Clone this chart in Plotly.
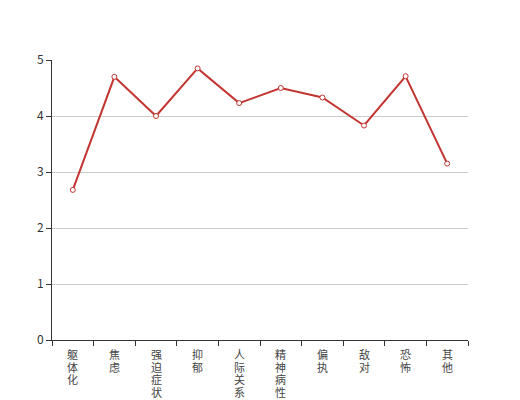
import plotly.graph_objects as go

categories = ["躯体化", "焦虑", "强迫症状", "抑郁", "人际关系敏感", "精神病性", "偏执", "敌对", "恐怖", "其他"]
values = [2.68, 4.70, 4.00, 4.85, 4.23, 4.50, 4.33, 3.83, 4.71, 3.15]
y_ticks = [0, 1, 2, 3, 4, 5]

fig = go.Figure()
fig.add_trace(go.Scatter(
    x=categories, y=values, mode="lines+markers",
    line=dict(color="#c23531", width=2),
    marker=dict(symbol="circle", size=5, color="#ffffff",
                line=dict(color="#c23531", width=1)),
    hoverinfo="x+y",
))

# vertical (stacked-character) category labels, tight line spacing
annotations = []
for cat in categories:
    for j, ch in enumerate(cat):
        annotations.append(dict(
            x=cat, xref="x", y=0, yref="paper",
            yanchor="middle", xanchor="center",
            yshift=-(14 + 12.7 * j), text=ch, showarrow=False,
            borderpad=0,
            font=dict(size=11, color="#444444"),
        ))

fig.update_layout(
    width=520, height=400,
    margin=dict(l=44, r=60, t=52, b=68, autoexpand=False),
    paper_bgcolor="#ffffff", plot_bgcolor="#ffffff",
    showlegend=False,
    font=dict(family="Noto Sans CJK SC, sans-serif", size=12, color="#333333"),
    annotations=annotations,
)
fig.update_xaxes(
    type="category", range=[-0.5, 9.5],
    showticklabels=False,
    tickson="boundaries", ticks="outside", ticklen=5, tickcolor="#333333",
    showline=True, linecolor="#333333", linewidth=1,
    showgrid=False, zeroline=False, automargin=False,
)
fig.update_yaxes(
    range=[0, 5], tickvals=y_ticks,
    ticks="outside", ticklen=5, tickcolor="#333333",
    showline=True, linecolor="#333333", linewidth=1,
    showgrid=True, gridcolor="#cccccc", gridwidth=1,
    zeroline=False, automargin=False,
    tickfont=dict(size=12, color="#333333"),
)

fig.write_html("out.html")
